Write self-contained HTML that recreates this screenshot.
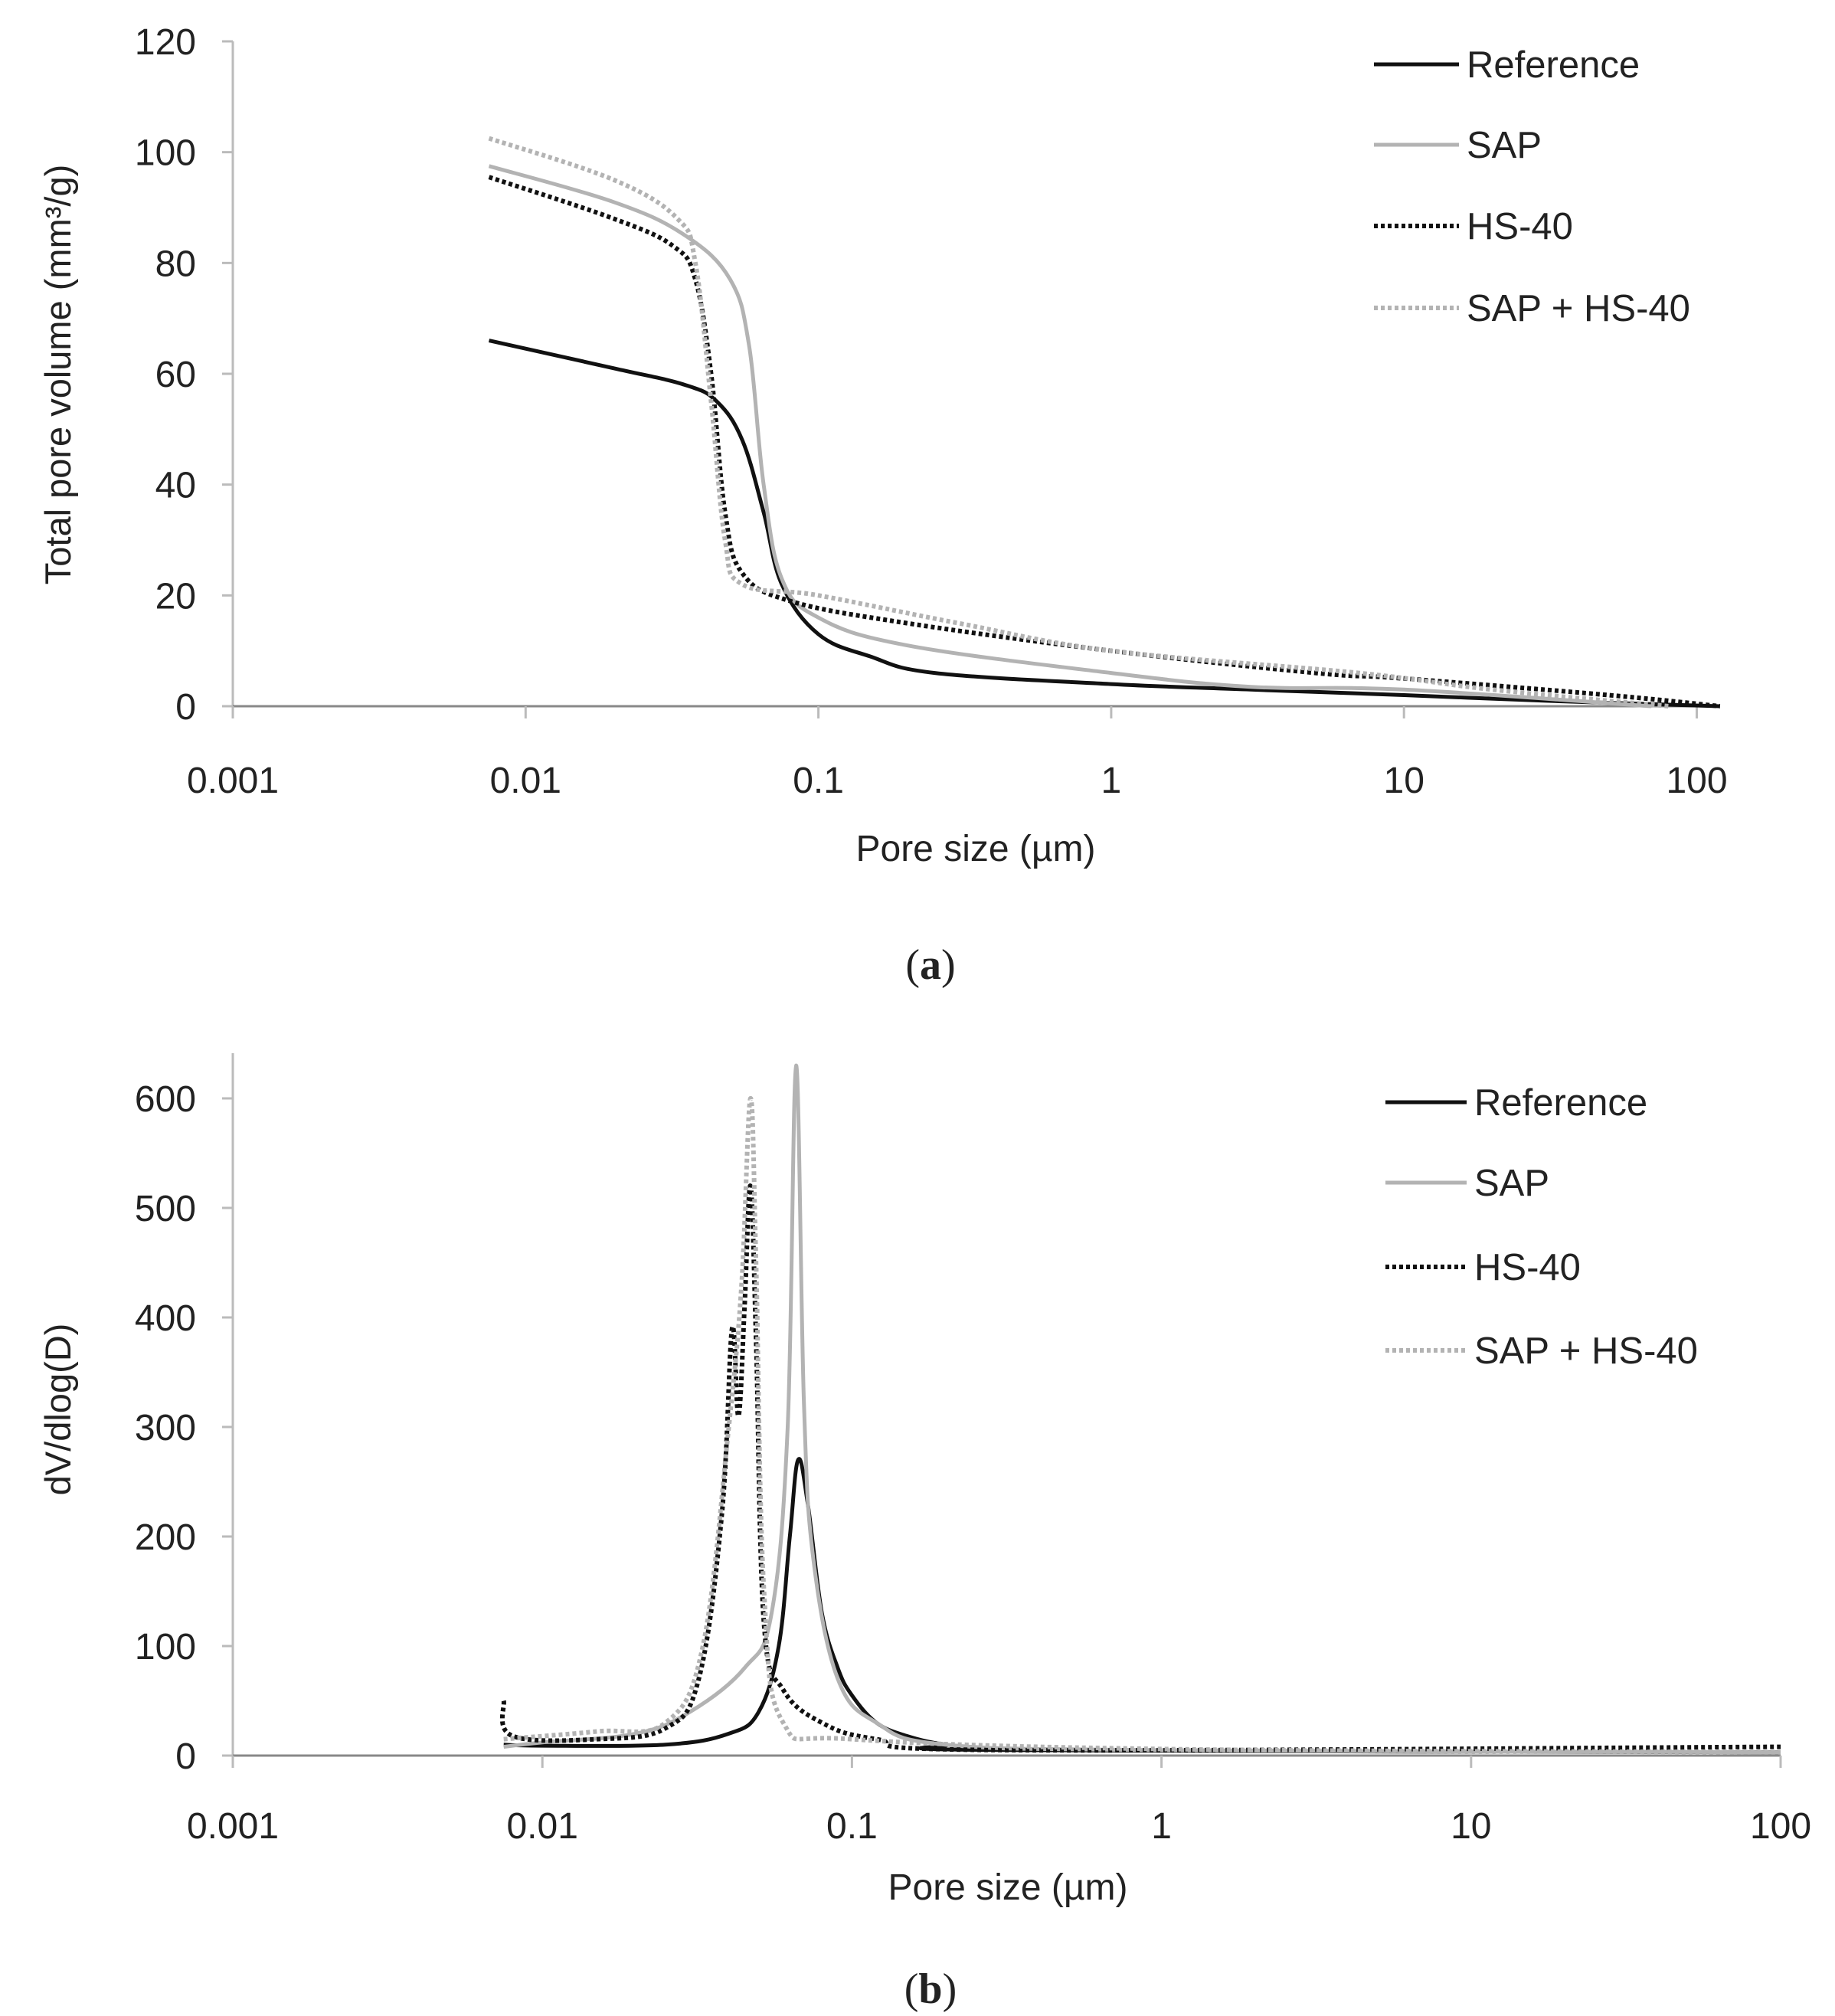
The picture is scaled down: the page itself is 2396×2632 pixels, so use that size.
<!DOCTYPE html>
<html><head><meta charset="utf-8"><style>
body{margin:0;background:#fff}
svg{display:block}
text{font-family:"Liberation Sans",sans-serif;fill:#222}
</style></head><body>
<svg id="s" width="2396" height="2632" viewBox="0 0 2396 2632" xmlns="http://www.w3.org/2000/svg">
<rect width="2396" height="2632" fill="#fff"/>
<g id="g"></g>
<text transform="translate(92,489) rotate(-90)" font-size="47" text-anchor="middle">Total pore volume (mm³/g)</text>
<text x="1274" y="1124" font-size="48" text-anchor="middle">Pore size (µm)</text>
<text x="1215" y="1278" font-size="56" text-anchor="middle" style="font-family:'Liberation Serif',serif">(<tspan font-weight="bold">a</tspan>)</text>
<text transform="translate(92,1840) rotate(-90)" font-size="47" text-anchor="middle">dV/dlog(D)</text>
<text x="1316" y="2480" font-size="48" text-anchor="middle">Pore size (µm)</text>
<text x="1215" y="2615" font-size="56" text-anchor="middle" style="font-family:'Liberation Serif',serif">(<tspan font-weight="bold">b</tspan>)</text>
</svg>
<script>
const g=document.getElementById('g');let h='';
function smooth(pts){
  let d='M'+pts[0][0].toFixed(1)+' '+pts[0][1].toFixed(1);
  for(let i=0;i<pts.length-1;i++){
    const p0=pts[Math.max(0,i-1)],p1=pts[i],p2=pts[i+1],p3=pts[Math.min(pts.length-1,i+2)];
    const t=0.18;
    const c1=[p1[0]+(p2[0]-p0[0])*t,p1[1]+(p2[1]-p0[1])*t];
    const c2=[p2[0]-(p3[0]-p1[0])*t,p2[1]-(p3[1]-p1[1])*t];
    d+=` C${c1[0].toFixed(1)} ${c1[1].toFixed(1)} ${c2[0].toFixed(1)} ${c2[1].toFixed(1)} ${p2[0].toFixed(1)} ${p2[1].toFixed(1)}`;
  }
  return d;
}
function chart(x0,dec,y0,yPer,ymax,ystep,yTop,xEndAxis,xlblY,series,leg){
  h+=`<line x1="${x0}" y1="${yTop}" x2="${x0}" y2="${y0}" stroke="#bbb" stroke-width="3"/>`;
  h+=`<line x1="${x0}" y1="${y0}" x2="${xEndAxis}" y2="${y0}" stroke="#888" stroke-width="3"/>`;
  for(let v=0;v<=ymax;v+=ystep){const y=y0-v*yPer;
    h+=`<line x1="${x0-14}" y1="${y}" x2="${x0}" y2="${y}" stroke="#bbb" stroke-width="3"/>`;
    h+=`<text x="${x0-48}" y="${y+17}" font-size="48" text-anchor="end">${v}</text>`;}
  const lb=['0.001','0.01','0.1','1','10','100'];
  lb.forEach((l,i)=>{const x=x0+i*dec;
    h+=`<line x1="${x}" y1="${y0}" x2="${x}" y2="${y0+16}" stroke="#bbb" stroke-width="3"/>`;
    h+=`<text x="${x}" y="${xlblY}" font-size="48" text-anchor="middle">${l}</text>`;});
  series.forEach(s=>{
    const pts=s.p.map(p=>[x0+(Math.log10(p[0])+3)*dec,y0-p[1]*yPer]);
    h+=`<path d="${smooth(pts)}" fill="none" stroke="${s.c}" stroke-width="${s.dot?6:5}" ${s.dot?'stroke-dasharray="5 4"':''} stroke-linejoin="round"/>`;
  });
  leg.ys.forEach((y,i)=>{const s=series[i];
    h+=`<line x1="${leg.x1}" y1="${y}" x2="${leg.x2}" y2="${y}" stroke="${s.c}" stroke-width="${s.dot?6:5}" ${s.dot?'stroke-dasharray="5 4"':''}/>`;
    h+=`<text x="${leg.x2+10}" y="${y+17}" font-size="49">${s.n}</text>`;});
}
const B='#111',G='#b3b3b3';
chart(304,382.3,922,868/120,120,20,54,2245,1035,[
 {n:'Reference',c:B,p:[[0.0075,66],[0.02,61],[0.035,58],[0.045,55],[0.055,48],[0.065,35],[0.075,22],[0.1,13],[0.15,9],[0.25,6],[1,4],[3,3],[10,2],[30,1],[120,0]]},
 {n:'SAP',c:G,p:[[0.0075,97.5],[0.02,91],[0.035,85],[0.05,77],[0.058,65],[0.065,40],[0.075,23],[0.1,16],[0.2,11],[1,6],[3,3.5],[10,3],[70,0]]},
 {n:'HS-40',c:B,dot:1,p:[[0.0075,95.5],[0.02,88],[0.032,83],[0.038,77],[0.043,60],[0.048,35],[0.055,24],[0.08,19],[0.2,15],[1,10],[5,6],[10,5],[50,2],[120,0]]},
 {n:'SAP + HS-40',c:G,dot:1,p:[[0.0075,102.5],[0.02,95],[0.033,88],[0.038,80],[0.043,55],[0.048,30],[0.055,22],[0.1,20],[0.3,15],[1,10],[7,6],[20,3],[80,0]]}
],{x1:1794,x2:1905,ys:[84,189,295,402]});
chart(304,404.2,2292,858/600,600,100,1375,2325,2400,[
 {n:'Reference',c:B,p:[[0.0075,10],[0.01,9],[0.025,10],[0.04,20],[0.05,40],[0.058,100],[0.063,200],[0.067,270],[0.072,230],[0.08,130],[0.09,80],[0.1,55],[0.12,30],[0.15,18],[0.2,10],[0.3,5],[100,3]]},
 {n:'SAP',c:G,p:[[0.0075,8],[0.01,12],[0.02,20],[0.03,40],[0.045,80],[0.055,130],[0.062,300],[0.066,630],[0.07,320],[0.075,180],[0.09,70],[0.12,30],[0.2,10],[1,5],[100,3]]},
 {n:'HS-40',c:B,dot:1,p:[[0.0075,50],[0.008,18],[0.015,15],[0.025,25],[0.032,70],[0.038,220],[0.041,390],[0.043,310],[0.045,410],[0.047,520],[0.049,380],[0.052,120],[0.06,60],[0.08,30],[0.12,15],[0.3,5],[100,8]]},
 {n:'SAP + HS-40',c:G,dot:1,p:[[0.0075,15],[0.015,22],[0.025,30],[0.033,100],[0.04,300],[0.044,430],[0.047,600],[0.049,450],[0.052,150],[0.06,30],[0.1,15],[1,6],[100,3]]}
],{x1:1809,x2:1915,ys:[1439,1544,1654,1763]});
g.innerHTML=h;
</script>
</body></html>
